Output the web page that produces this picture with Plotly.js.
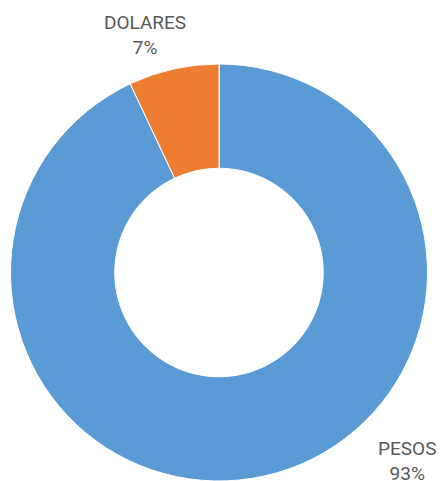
<!DOCTYPE html>
<html>
<head>
<meta charset="utf-8">
<script src="https://cdn.plot.ly/plotly-3.0.1.min.js"></script>
<style>html,body{margin:0;padding:0;background:#fff;}</style>
</head>
<body>
<div id="chart" style="width:441px;height:481px;"></div>
<script>
const labels = ["PESOS", "DOLARES"];
const values = [93, 7];
const colors = ["#5B9BD5", "#ED7D31"];

const W = 441, H = 481;
const total = values.reduce((a, b) => a + b, 0);
const pct = values.map(v => Math.round(v / total * 100) + "%");

// label positions in pixels (centre of the text block)
const labelPos = [[407, 461], [145, 35]];

const annotations = labels.map((l, i) => ({
  text: l + "<br>" + pct[i],
  xref: "paper", yref: "paper",
  x: labelPos[i][0] / W, y: 1 - labelPos[i][1] / H,
  xanchor: "center", yanchor: "middle",
  showarrow: false,
  font: {family: "Roboto, 'DejaVu Sans', sans-serif", size: 19, color: "#595959"}
}));

const trace = {
  type: "pie",
  labels: labels,
  values: values,
  hole: 0.5,
  sort: false,
  direction: "clockwise",
  rotation: 0,
  textinfo: "none",
  hoverinfo: "none",
  marker: {colors: colors, line: {color: "#ffffff", width: 1}},
  domain: {x: [10 / W, 428 / W], y: [0, (H - 64) / H]}
};

Plotly.newPlot("chart", [trace], {
  width: W, height: H,
  margin: {l: 0, r: 0, t: 0, b: 0},
  showlegend: false,
  paper_bgcolor: "#ffffff",
  annotations: annotations
}, {displayModeBar: false, staticPlot: true});
</script>
</body>
</html>
